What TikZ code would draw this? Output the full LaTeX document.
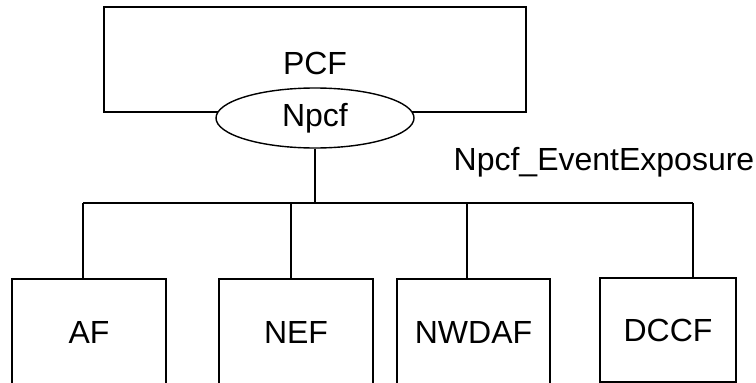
\documentclass[tikz,border=0pt]{standalone}
\usepackage{fontspec}
\setmainfont{Liberation Sans}
\usetikzlibrary{shapes.geometric}
\begin{document}
\begin{tikzpicture}[x=1pt,y=-1pt,
  every node/.style={font=\fontsize{32}{38}\selectfont, inner sep=0pt},
  nfbox/.style={draw, line width=1.4pt, rectangle},
  line/.style={draw, line width=1.2pt}]
\useasboundingbox (0,0) rectangle (756,383);
\clip (0,0) rectangle (756,383);
\node[nfbox, minimum width=422pt, minimum height=105pt] (pcf) at (315,59.5) {};
\node (pcftext) at (315,63) {PCF};
\node[draw, line width=1.4pt, ellipse, fill=white, minimum width=198pt, minimum height=60pt] (npcf) at (315,118) {Npcf};
\node (lbl) at (604,162) {Npcf\_EventExposure};
\node[nfbox, minimum width=154pt, minimum height=120pt] (af) at (89,339) {};
\node (aft) at (89,332) {AF};
\node[nfbox, minimum width=154pt, minimum height=120pt] (nef) at (296,339) {};
\node (neft) at (296,332) {NEF};
\node[nfbox, minimum width=153pt, minimum height=120pt] (nwdaf) at (473.5,339) {};
\node (nwdaft) at (473.5,332) {NWDAF};
\node[nfbox, minimum width=136pt, minimum height=104pt] (dccf) at (668,330) {DCCF};
\coordinate (busL) at (83,203);
\coordinate (busR) at (693,203);
\coordinate (dNEF) at (291,203);
\coordinate (dNWDAF) at (467,203);
\path[line] (busL) -- (busR);
\path[line] (npcf.south) -- (npcf.south |- busL);
\path[line] (busL) -- (busL |- af.north);
\path[line] (dNEF) -- (dNEF |- nef.north);
\path[line] (dNWDAF) -- (dNWDAF |- nwdaf.north);
\path[line] (busR) -- (busR |- dccf.north);
\end{tikzpicture}
\end{document}
